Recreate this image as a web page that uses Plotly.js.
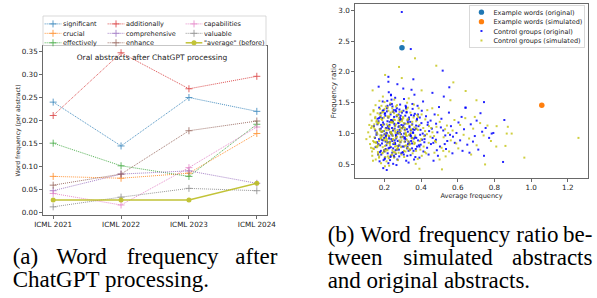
<!DOCTYPE html>
<html>
<head>
<meta charset="utf-8">
<script src="https://cdn.plot.ly/plotly-3.0.1.min.js"></script>
<style>
  html, body { margin: 0; padding: 0; background: #fff; overflow: hidden; width: 597px; height: 298px; }
  #chart { width: 1791px; height: 894px; transform: scale(0.33333333); transform-origin: 0 0; }
</style>
</head>
<body>
<div id="chart"></div>
<script>
// ---------------- data: panel (a) ----------------
const years = ['ICML 2021', 'ICML 2022', 'ICML 2023', 'ICML 2024'];
const significant   = [0.240, 0.145, 0.250, 0.220];
const crucial       = [0.079, 0.075, 0.086, 0.172];
const effectively   = [0.151, 0.102, 0.079, 0.192];
const additionally  = [0.211, 0.347, 0.269, 0.296];
const comprehensive = [0.048, 0.084, 0.091, 0.064];
const enhance       = [0.060, 0.084, 0.178, 0.199];
const capabilities  = [0.042, 0.017, 0.098, 0.186];
const valuable      = [0.013, 0.034, 0.053, 0.048];
const averageBefore = [0.028, 0.028, 0.028, 0.064];
const wordNames = ['significant', 'crucial', 'effectively', 'additionally', 'comprehensive', 'enhance', 'capabilities', 'valuable'];
const averageName = '"average" (before)';
const panelATitle = 'Oral abstracts after ChatGPT processing';

// ---------------- data: panel (b) ----------------
const exampleOrigX = [0.296];
const exampleOrigY = [2.39];
const exampleSimX = [1.058];
const exampleSimY = [1.46];
const ctrlOrigX = [
0.172,0.193,0.208,0.234,0.181,0.247,0.273,0.219,0.158,0.203,
0.241,0.284,0.262,0.187,0.214,0.291,0.149,0.228,0.268,0.176,
0.222,0.253,0.197,0.279,0.166,0.238,0.257,0.191,0.296,0.211,
0.232,0.163,0.271,0.217,0.249,0.184,0.205,0.283,0.243,0.259,
0.194,0.213,0.174,0.236,0.276,0.152,0.288,0.226,0.251,0.199,
0.179,0.264,0.245,0.281,0.209,0.161,0.231,0.274,0.189,0.224,
0.302,0.169,0.239,0.266,0.201,0.286,0.143,0.254,0.216,0.229,
0.312,0.334,0.351,0.372,0.318,0.343,0.366,0.384,0.402,0.421,
0.307,0.329,0.356,0.393,0.413,0.436,0.301,0.341,0.362,0.381,
0.398,0.444,0.323,0.374,0.391,0.427,0.314,0.353,0.332,0.409,
0.433,0.364,0.386,0.404,0.346,0.441,0.326,0.377,0.395,0.418,
0.348,0.452,0.304,0.411,0.337,
0.463,0.482,0.503,0.474,0.521,0.543,0.492,0.511,0.532,0.563,
0.584,0.459,0.552,0.486,0.571,0.498,0.593,0.468,0.536,0.604,
0.524,0.454,0.574,0.489,
0.613,0.634,0.652,0.671,0.693,0.621,0.712,0.733,0.664,0.752,
0.642,0.703,0.771,0.683,0.724,0.743,0.794,0.785,0.854,0.847,0.743,0.643,0.626,
0.295,0.344,0.518,0.222,0.358,0.554,0.222,0.271,0.462,0.303,
0.186,0.207,0.229,0.248,0.267,0.289,0.311,0.332,0.357,0.378,
0.171,0.196,0.218,0.237,0.258,0.277,0.298,0.321,0.345,0.369,
0.182,0.202,0.226,0.244,0.263,0.285,0.306,0.328,0.352,0.388,
0.177,0.199,0.221,0.242,0.261,0.282,0.309,0.336,0.361,0.397,
0.168,0.212,0.235,0.256,0.278,0.293,0.316,0.339,0.371,0.406,
0.157,0.178,0.199,0.221,0.243,0.264,0.285,0.306,0.327,0.349,
0.162,0.183,0.204,0.226,0.247,0.268,0.289,0.311,0.332,0.354,
0.167,0.188,0.209,0.231,0.252,0.273,0.294,0.316,0.337,0.359,
0.171,0.192,0.214,0.235,0.256,0.277,0.298,0.321,0.342,0.364,
0.176,0.197,0.218,0.239,0.261,0.282,0.303,0.325,0.346,0.368,
0.181,0.202,0.223,0.244,0.265,0.287,0.308,0.329,0.351,0.373,
0.186,0.207,0.228,0.249,0.271,0.292,0.313,0.334,0.356,0.378,
0.191,0.212,0.233,0.254,0.276,0.297,0.318,0.339,0.361,0.383,
0.196,0.217,0.238,0.259,0.281,0.302,0.323,0.344,0.419,0.467,
0.151,0.236,0.248,0.319,0.391,0.437,0.481,0.508,0.529,0.558
];
const ctrlOrigY = [
1.42,1.18,0.95,1.31,0.72,1.05,0.88,1.12,1.01,0.61,
1.48,1.22,0.67,0.84,1.36,0.99,0.93,0.77,1.41,1.07,
0.52,1.27,1.15,0.74,0.66,0.91,1.13,1.52,1.34,0.81,
1.02,1.24,0.58,1.45,0.83,0.97,1.29,1.06,0.69,1.58,
0.44,0.41,0.55,1.63,1.17,0.78,0.86,0.92,1.38,0.73,
1.33,0.96,1.21,0.63,1.09,0.86,0.57,1.00,1.25,1.67,
1.11,1.76,1.55,0.49,0.99,1.47,1.12,0.62,1.53,0.86,
0.94,1.23,0.76,1.08,1.41,0.65,1.32,0.89,1.17,0.97,
1.56,0.83,1.02,1.26,0.71,1.14,0.70,1.19,0.58,1.45,
0.82,1.04,1.07,0.93,0.61,1.28,1.29,1.48,0.53,1.00,
0.77,1.63,1.12,1.37,0.88,0.66,0.79,1.22,0.98,0.86,
1.71,1.21,1.37,1.52,1.10,
0.93,1.16,0.79,1.31,1.05,0.88,0.64,1.24,0.97,1.12,
0.85,1.08,1.34,0.73,0.68,1.43,1.01,0.56,0.75,1.18,
1.60,0.83,0.95,1.02,
0.89,1.07,0.82,1.15,0.96,1.27,0.74,1.03,0.69,1.09,
1.42,1.21,0.93,0.87,1.33,0.64,1.01,1.00,1.22,0.54,1.51,1.42,0.72,
2.97,2.37,2.02,1.92,1.88,1.75,1.84,1.80,1.66,1.73,
1.03,0.87,1.19,0.76,1.28,0.94,1.16,0.72,1.01,1.24,
0.91,1.38,0.68,1.22,0.85,1.11,0.79,1.35,0.96,0.62,
1.14,0.59,1.07,1.44,0.98,1.26,0.66,1.03,1.15,0.81,
0.81,0.93,1.26,1.09,0.73,1.39,0.92,0.84,1.29,1.06,
1.20,1.00,0.64,0.89,1.31,1.14,1.45,0.97,0.75,0.90,
0.98,1.27,0.71,1.09,0.88,1.36,1.02,0.79,1.21,0.93,
1.15,0.66,1.33,0.95,1.19,0.74,1.29,1.06,0.87,1.40,
0.83,1.11,0.97,1.47,0.64,1.03,1.23,0.91,1.12,0.72,
1.25,0.89,1.41,0.78,1.08,1.17,0.69,1.34,0.99,1.06,
0.70,1.04,0.86,1.22,1.38,0.81,1.13,0.64,1.30,0.94,
1.08,1.32,0.76,0.97,0.92,1.24,1.00,1.18,0.84,1.13,
0.90,0.75,1.14,1.35,1.01,0.68,0.87,1.26,1.07,0.79,
1.37,1.01,0.62,1.16,0.80,1.09,1.43,0.74,0.92,1.31,
0.57,1.20,0.99,0.83,1.12,0.95,0.76,1.05,0.91,0.85,
1.05,1.62,0.51,0.56,0.79,1.18,0.90,1.10,0.83,0.98
];
const ctrlSimX = [
0.121,0.142,0.161,0.183,0.204,0.133,0.222,0.241,0.152,0.172,
0.193,0.211,0.233,0.252,0.271,0.112,0.262,0.283,0.144,0.163,
0.181,0.201,0.224,0.243,0.292,0.131,0.174,0.191,0.213,0.231,
0.254,0.273,0.153,0.294,0.122,0.184,0.261,0.203,0.141,0.221,
0.164,0.244,0.281,0.192,0.212,0.102,0.251,0.171,0.232,0.272,
0.134,0.151,0.293,0.206,0.263,0.182,0.223,0.246,0.162,0.284,
0.124,0.143,0.214,0.194,0.253,0.173,0.234,0.274,0.136,0.204,
0.313,0.331,0.352,0.373,0.322,0.342,0.363,0.383,0.401,0.423,
0.308,0.328,0.354,0.392,0.414,0.432,0.303,0.344,0.361,0.382,
0.403,0.442,0.321,0.371,0.393,0.421,0.311,0.353,0.333,0.412,
0.434,0.364,0.384,0.451,0.341,0.443,0.324,0.374,0.404,0.422,
0.391,0.403,0.295,0.303,0.367,0.280,
0.462,0.481,0.502,0.473,0.523,0.541,0.493,0.512,0.531,0.562,
0.582,0.461,0.553,0.484,0.572,0.501,0.592,0.471,0.534,0.613,
0.603,0.632,0.483,0.560,0.576,0.514,0.641,
0.662,0.684,0.703,0.722,0.673,0.741,0.762,0.702,0.643,0.749,
0.810,0.812,0.873,0.867,0.894,0.860,0.963,1.258,0.781,0.693,
0.148,0.169,0.188,0.209,0.227,0.249,0.268,0.287,0.306,0.327,
0.139,0.157,0.178,0.198,0.219,0.238,0.258,0.279,0.318,0.349,
0.128,0.166,0.186,0.207,0.228,0.247,0.269,0.297,0.336,0.368,
0.154,0.176,0.196,0.217,0.239,0.259,0.277,0.315,0.347,0.379,
0.145,0.185,0.205,0.226,0.245,0.266,0.289,0.326,0.358,0.396,
0.132,0.153,0.174,0.196,0.217,0.238,0.259,0.281,0.302,0.323,
0.137,0.158,0.179,0.201,0.222,0.243,0.264,0.286,0.307,0.328,
0.141,0.163,0.184,0.206,0.227,0.248,0.269,0.291,0.312,0.334,
0.146,0.167,0.189,0.211,0.232,0.253,0.274,0.296,0.317,0.339,
0.149,0.171,0.192,0.214,0.236,0.257,0.278,0.299,0.321,0.344,
0.155,0.176,0.198,0.219,0.241,0.262,0.283,0.304,0.326,0.351,
0.159,0.181,0.203,0.224,0.246,0.267,0.288,0.309,0.331,0.359,
0.165,0.186,0.208,0.229,0.251,0.272,0.293,0.314,0.338,0.366,
0.169,0.191,0.213,0.234,0.256,0.277,0.298,0.319,0.376,0.417,
0.118,0.127,0.138,0.226,0.387,0.428,0.455,0.476,0.521,0.548
];
const ctrlSimY = [
0.95,1.10,0.78,1.24,0.89,0.71,1.37,0.99,1.46,0.63,
1.04,0.74,1.18,0.85,1.29,1.02,0.68,1.12,0.86,1.33,
0.92,1.51,0.60,1.41,0.94,1.21,1.07,0.69,1.15,0.81,
1.55,0.77,0.58,1.36,0.83,1.45,1.01,0.47,1.38,0.97,
1.16,0.73,0.89,1.60,0.55,0.91,1.23,0.88,1.49,1.06,
0.64,1.27,0.66,1.08,1.44,0.52,1.26,0.90,0.99,1.19,
1.31,0.75,0.84,1.35,0.61,1.53,1.02,0.57,1.70,1.95,
1.05,0.87,1.19,0.72,0.96,1.34,0.83,1.06,0.91,1.23,
0.62,1.42,0.68,1.14,0.79,0.99,1.25,1.01,1.47,0.59,
1.31,0.85,1.16,0.51,0.88,0.70,0.80,0.93,1.57,1.09,
1.38,1.10,1.27,0.95,0.74,1.12,1.50,1.20,0.64,1.04,
0.43,1.70,1.90,2.50,2.22,2.08,
1.02,0.86,1.19,0.69,0.94,1.13,1.30,0.77,1.07,0.89,
1.22,1.41,0.71,1.11,1.05,0.58,0.84,0.96,0.63,1.14,
0.76,0.98,2.10,1.54,1.83,0.42,1.25,
0.92,1.08,0.81,1.17,0.66,0.97,1.13,1.54,1.69,0.50,
0.79,1.12,1.11,1.00,1.00,0.80,0.61,0.93,0.88,1.27,
1.07,0.82,1.22,0.93,1.11,0.70,1.30,0.86,1.17,0.76,
0.88,1.19,0.97,0.73,1.42,1.03,0.79,1.25,0.98,1.14,
1.09,0.67,1.34,1.00,0.85,1.18,0.95,1.08,0.82,0.97,
0.79,1.40,0.90,1.28,0.65,1.12,1.21,0.71,1.06,1.30,
1.15,1.03,0.62,0.96,1.36,0.80,1.04,1.22,0.87,0.74,
1.12,0.86,1.31,0.97,0.73,1.19,1.04,0.82,1.27,0.90,
0.76,1.21,0.93,1.40,1.06,0.66,1.15,0.99,0.72,1.24,
1.36,0.80,1.03,0.71,1.28,0.91,1.46,0.78,1.09,0.98,
0.94,1.17,0.68,1.05,0.87,1.33,0.76,1.20,1.01,0.83,
1.25,0.61,1.14,0.88,1.01,1.22,0.69,0.94,1.39,1.07,
0.85,1.05,1.26,0.63,1.18,0.93,1.35,1.11,0.77,0.92,
1.02,1.29,0.80,1.12,0.96,0.74,1.09,0.87,1.16,1.26,
0.70,0.95,1.44,0.84,1.07,1.30,0.89,0.99,0.73,0.85,
1.18,0.78,0.91,1.34,0.70,1.01,1.23,0.81,1.08,0.96,
1.14,0.77,0.56,0.48,1.41,0.68,1.09,0.88,0.72,1.01
];
const scatterNames = ['Example words (original)', 'Example words (simulated)', 'Control groups (original)', 'Control groups (simulated)'];
const xTitleB = 'Average frequency';
const yTitleB = 'Frequency ratio';
const yTitleA = 'Word frequency (per abstract)';

// ---------------- drawing ----------------
const S = 3;              // render at 3x, shown at 1x
const W = 597, H = 298;
const px = x => x / W;
const py = y => 1 - y / H;
const FONT = 'DejaVu Sans, sans-serif';
const SERIF = 'Liberation Serif, Times New Roman, serif';
const tab10 = ['#1f77b4', '#ff7f0e', '#2ca02c', '#d62728', '#9467bd', '#8c564b', '#e377c2', '#7f7f7f', '#bcbd22'];
const wordValues = [significant, crucial, effectively, additionally, comprehensive, enhance, capabilities, valuable];
const legendOf = i => (i < 3 ? 'legend' : (i < 6 ? 'legend2' : 'legend3'));
const xIdx = years.map((_, i) => i);

const traces = [];
wordValues.forEach((vals, i) => {
  traces.push({
    type: 'scatter', mode: 'lines+markers', x: xIdx, y: vals, name: wordNames[i],
    xaxis: 'x', yaxis: 'y', legend: legendOf(i), opacity: 0.8,
    line: { color: tab10[i], width: 1 * S, dash: 'dot' },
    marker: { symbol: 'cross-thin-open', size: 5 * S, color: tab10[i], line: { color: tab10[i], width: 0.9 * S } }
  });
});
traces.push({
  type: 'scatter', mode: 'lines+markers', x: xIdx, y: averageBefore, name: averageName,
  xaxis: 'x', yaxis: 'y', legend: 'legend3', opacity: 0.9,
  line: { color: tab10[8], width: 1.5 * S },
  marker: { symbol: 'circle', size: 5 * S, color: tab10[8] }
});
// panel b
traces.push({
  type: 'scatter', mode: 'markers', x: ctrlOrigX, y: ctrlOrigY, name: scatterNames[2],
  xaxis: 'x2', yaxis: 'y2', legend: 'legend4', legendrank: 3,
  marker: { symbol: 'square', size: 2 * S, color: 'rgba(0,0,255,0.85)', line: { width: 0 } }
});
traces.push({
  type: 'scatter', mode: 'markers', x: ctrlSimX, y: ctrlSimY, name: scatterNames[3],
  xaxis: 'x2', yaxis: 'y2', legend: 'legend4', legendrank: 4,
  marker: { symbol: 'square', size: 2 * S, color: 'rgba(191,191,0,0.75)', line: { width: 0 } }
});
traces.push({
  type: 'scatter', mode: 'markers', x: exampleOrigX, y: exampleOrigY, name: scatterNames[0],
  xaxis: 'x2', yaxis: 'y2', legend: 'legend4', legendrank: 1,
  marker: { symbol: 'circle', size: 5.5 * S, color: tab10[0] }
});
traces.push({
  type: 'scatter', mode: 'markers', x: exampleSimX, y: exampleSimY, name: scatterNames[1],
  xaxis: 'x2', yaxis: 'y2', legend: 'legend4', legendrank: 2,
  marker: { symbol: 'circle', size: 5.5 * S, color: tab10[1] }
});

const axisBase = {
  showgrid: false, zeroline: false, showline: true, mirror: true,
  linecolor: '#444', linewidth: 0.8 * S, ticks: 'outside', ticklen: 3 * S, tickwidth: 0.8 * S,
  tickcolor: '#444', tickfont: { family: FONT, size: 7.2 * S, color: '#222' }, automargin: false
};
const colLegend = (xpx) => ({
  x: px(xpx), y: py(17.5), xanchor: 'left', yanchor: 'top', orientation: 'v',
  bgcolor: 'rgba(0,0,0,0)', borderwidth: 0, tracegroupgap: 0, itemwidth: 50,
  font: { family: FONT, size: 6.5 * S, color: '#222' }
});

const capFont = { family: SERIF, size: 23 * S, color: '#000' };
const word = (t, x, y, anchor) => ({ text: t, xref: 'paper', yref: 'paper', x: px(x), y: py(y), xanchor: anchor || 'left', yanchor: 'middle', showarrow: false, font: capFont });

const layout = {
  width: W * S, height: H * S, margin: { l: 0, r: 0, t: 0, b: 0 },
  paper_bgcolor: '#fff', plot_bgcolor: '#fff', font: { family: FONT, color: '#222' },
  xaxis: Object.assign({}, axisBase, {
    domain: [px(43), px(267)], range: [-0.15, 3.15], tickvals: xIdx, ticktext: years, anchor: 'y'
  }),
  yaxis: Object.assign({}, axisBase, {
    domain: [py(215), py(46)], range: [-0.0047, 0.3617], dtick: 0.05, tick0: 0, tickformat: '.2f', anchor: 'x'
  }),
  xaxis2: Object.assign({}, axisBase, {
    domain: [px(355), px(588)], range: [0.04, 1.31], dtick: 0.2, tick0: 0, tickformat: '.1f', anchor: 'y2',
    title: { text: xTitleB, font: { family: FONT, size: 6.6 * S, color: '#222' }, standoff: 2 * S }
  }),
  yaxis2: Object.assign({}, axisBase, {
    domain: [py(178), py(4)], range: [0.28, 3.10], dtick: 0.5, tick0: 0, tickformat: '.1f', anchor: 'x2',
    title: { text: yTitleB, font: { family: FONT, size: 7 * S, color: '#222' }, standoff: 0 }
  }),
  legend: colLegend(43),
  legend2: colLegend(106),
  legend3: colLegend(184),
  legend4: {
    x: px(585), y: py(5), xanchor: 'right', yanchor: 'top', orientation: 'v', itemwidth: 62,
    bgcolor: 'rgba(255,255,255,0.85)', bordercolor: '#cfcfcf', borderwidth: 0.8 * S, tracegroupgap: 0,
    font: { family: FONT, size: 6.5 * S, color: '#222' }
  },
  shapes: [
    { type: 'rect', xref: 'paper', yref: 'paper', x0: px(43), x1: px(266), y0: py(45.5), y1: py(16),
      line: { color: '#cfcfcf', width: 0.8 * S }, fillcolor: 'rgba(255,255,255,0.85)', layer: 'above' }
  ],
  annotations: [
    { text: panelATitle, xref: 'paper', yref: 'paper', x: px(152), y: py(57), xanchor: 'center', yanchor: 'middle',
      showarrow: false, font: { family: FONT, size: 7.5 * S, color: '#222' } },
    { text: yTitleA, xref: 'paper', yref: 'paper', x: px(18), y: py(130.5), xanchor: 'center', yanchor: 'middle',
      textangle: -90, showarrow: false, font: { family: FONT, size: 6.1 * S, color: '#222' } },
    // caption (a)
    word('(a)', 12, 256), word('Word', 55.5, 256), word('frequency', 126, 256), word('after', 278, 256, 'right'),
    word('ChatGPT processing.', 12, 279),
    // caption (b)
    word('(b)', 327, 234), word('Word', 359.6, 234), word('frequency', 417.8, 234), word('ratio', 515.6, 234), word('be-', 593, 234, 'right'),
    word('tween', 327, 257), word('simulated', 402.5, 257), word('abstracts', 593, 257, 'right'),
    word('and original abstracts.', 327, 280)
  ]
};

Plotly.newPlot('chart', traces, layout, { staticPlot: true, displayModeBar: false });
</script>
</body>
</html>
